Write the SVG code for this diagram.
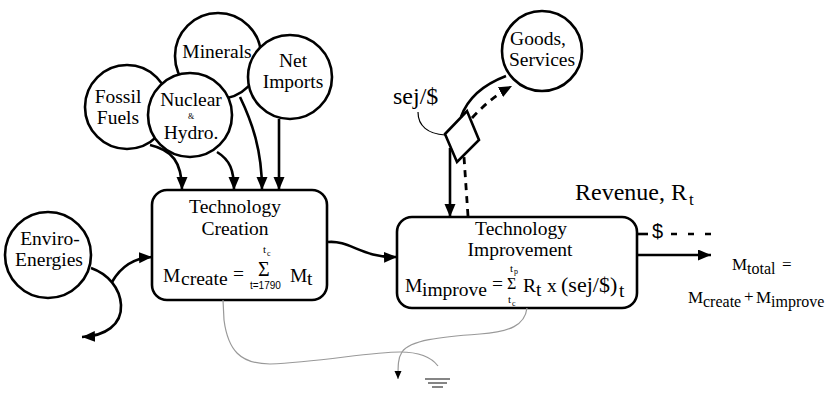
<svg xmlns="http://www.w3.org/2000/svg" width="836" height="395" viewBox="0 0 836 395" font-family="'Liberation Serif', 'DejaVu Serif', serif">
<defs>
<marker id="ah" markerUnits="userSpaceOnUse" markerWidth="14" markerHeight="12" refX="13" refY="5.5" orient="auto">
<path d="M0,0 L13,5.5 L0,11 z" fill="#000"/>
</marker>
<marker id="ahs" markerUnits="userSpaceOnUse" markerWidth="9" markerHeight="8" refX="8" refY="3.5" orient="auto">
<path d="M0,0 L8,3.5 L0,7 z" fill="#000"/>
</marker>
</defs>
<style>
svg text{font-family:'Liberation Serif','DejaVu Serif',serif;fill:#000}
svg text.sans{font-family:'Liberation Sans','DejaVu Sans',sans-serif}
.lbl{font-size:19.5px;text-anchor:middle}
.node{fill:#fff;stroke:#000;stroke-width:2.6}
.c{fill:none;stroke:#000;stroke-width:2.6}
.d{fill:none;stroke:#000;stroke-width:2.8;stroke-dasharray:7 6}
.thin{fill:none;stroke:#999;stroke-width:1.2}
.f{font-size:19.5px}
.sm{font-size:11px}
.xs{font-size:8px}
</style>
<g id="minerals"><circle class="node" cx="218" cy="56" r="43"/><text class="lbl" x="217" y="58">Minerals</text></g>
<g id="net-imports"><circle class="node" cx="290" cy="77" r="42"/><text class="lbl" x="293" y="67">Net</text><text class="lbl" x="293" y="88">Imports</text></g>
<g id="fossil-fuels"><circle class="node" cx="127" cy="107" r="42"/><text class="lbl" x="118" y="103">Fossil</text><text class="lbl" x="118" y="124">Fuels</text></g>
<g id="nuclear-hydro"><circle class="node" cx="190" cy="115" r="42"/><text class="lbl" x="191" y="106">Nuclear</text><text class="lbl" x="191" y="119" style="font-size:8px">&amp;</text><text class="lbl" x="191" y="139">Hydro.</text></g>
<g id="enviro-energies"><circle class="node" cx="48" cy="255" r="43"/><text class="lbl" x="50" y="245">Enviro-</text><text class="lbl" x="49" y="266">Energies</text></g>
<g id="goods-services"><circle class="node" cx="542" cy="51" r="40"/><text class="lbl" x="538" y="45">Goods,</text><text class="lbl" x="542" y="66">Services</text></g>
<g id="technology-creation">
<rect class="node" x="152" y="190" width="175" height="110" rx="15"/>
<text class="lbl" x="235" y="213">Technology</text>
<text class="lbl" x="235" y="235">Creation</text>
<text class="f" x="163" y="282">M</text><text class="f" x="181" y="285">create</text>
<text class="f" x="233" y="280">=</text>
<text x="258" y="276" style="font-size:20px">Σ</text>
<text class="sm" x="263" y="253">t</text><text class="xs" x="267" y="256">c</text>
<text class="sans" x="250" y="289" style="font-size:10px">t=1790</text>
<text class="f" x="290" y="282">M</text><text class="f" x="307" y="285">t</text>
</g>
<g id="technology-improvement">
<rect class="node" x="397" y="217" width="240" height="91" rx="15"/>
<text class="lbl" x="521" y="235">Technology</text>
<text class="lbl" x="520" y="256">Improvement</text>
<text class="f" x="405" y="292">M</text><text class="f" x="422" y="296">improve</text>
<text class="f" x="492" y="290">=</text>
<text x="507" y="289" style="font-size:16px">Σ</text>
<text class="sm" x="510" y="272">t</text><text class="xs" x="514" y="274">p</text>
<text class="sm" x="508" y="303">t</text><text class="xs" x="512" y="306">c</text>
<text class="f" x="523" y="292">R</text><text class="f" x="536" y="296">t</text>
<text class="f" x="547" y="292">x</text>
<text x="561" y="292" style="font-size:22px">(sej/$)</text><text class="f" x="619" y="297">t</text>
</g>
<g id="sej-diamond"><polygon class="node" points="445,134 467,111 479,140 457,162"/></g>
<g id="labels">
<text x="393" y="104" style="font-size:24px">sej/$</text>
<text x="575" y="200" style="font-size:24px">Revenue, R</text><text x="689" y="205" style="font-size:17px">t</text>
<text class="sans" x="652" y="238" style="font-size:20px">$</text>
<text x="732" y="270" style="font-size:17px">M</text><text x="747" y="274" style="font-size:16px">total</text><text x="782" y="270" style="font-size:17px">=</text>
<text x="688" y="303" style="font-size:17px">M</text><text x="703" y="307" style="font-size:16px">create</text><text x="744" y="302" style="font-size:17px">+</text><text x="756" y="303" style="font-size:17px">M</text><text x="771" y="307" style="font-size:16px">improve</text>
</g>
<g id="connectors">
<path class="c" d="M150,145 C172,150 182,162 182,190" marker-end="url(#ah)"/>
<path class="c" d="M217,152 C230,160 234,170 234,190" marker-end="url(#ah)"/>
<path class="c" d="M240,97 C252,122 262,150 262,190" marker-end="url(#ah)"/>
<path class="c" d="M279,119 L279,190" marker-end="url(#ah)"/>
<path class="c" d="M91,268 C108,274 120,288 121,305 C122,325 105,336 82,337" marker-end="url(#ah)"/>
<path class="c" d="M112,282 C120,268 132,258 152,257" marker-end="url(#ah)"/>
<path class="c" d="M328,242 C350,240 362,258 397,257" marker-end="url(#ah)"/>
<path class="c" d="M637,255 L711,255" marker-end="url(#ah)"/>
<path class="c" d="M506,76 C485,84 468,97 461,117"/>
<path class="c" d="M450,148 L450,217" marker-end="url(#ah)"/>
<path class="d" d="M468,216 L464,157"/>
<path class="d" d="M472,118 C485,104 497,94 512,86" marker-end="url(#ah)"/>
<path fill="none" stroke="#000" stroke-width="1.2" d="M418,112 C418,126 428,134 445,135"/>
<path fill="none" stroke="#000" stroke-width="2.6" d="M638,234 L648,234"/>
<path fill="none" stroke="#000" stroke-width="2.6" stroke-dasharray="6 11" d="M671,234 L713,234"/>
<path class="thin" d="M223,300 L224,320 C228,350 240,364 270,364 C320,362 370,352 400,352 C420,352 432,358 438,366"/>
<path class="thin" d="M527,308 C525,325 510,332 480,334 C440,337 410,340 402,352 C398,358 398,365 398,379" marker-end="url(#ahs)"/>
</g>
<g id="ground" stroke="#666" stroke-width="1.6">
<line x1="425" y1="379" x2="450" y2="379"/>
<line x1="428" y1="383" x2="447" y2="383"/>
<line x1="432" y1="387" x2="443" y2="387"/>
</g>
</svg>
